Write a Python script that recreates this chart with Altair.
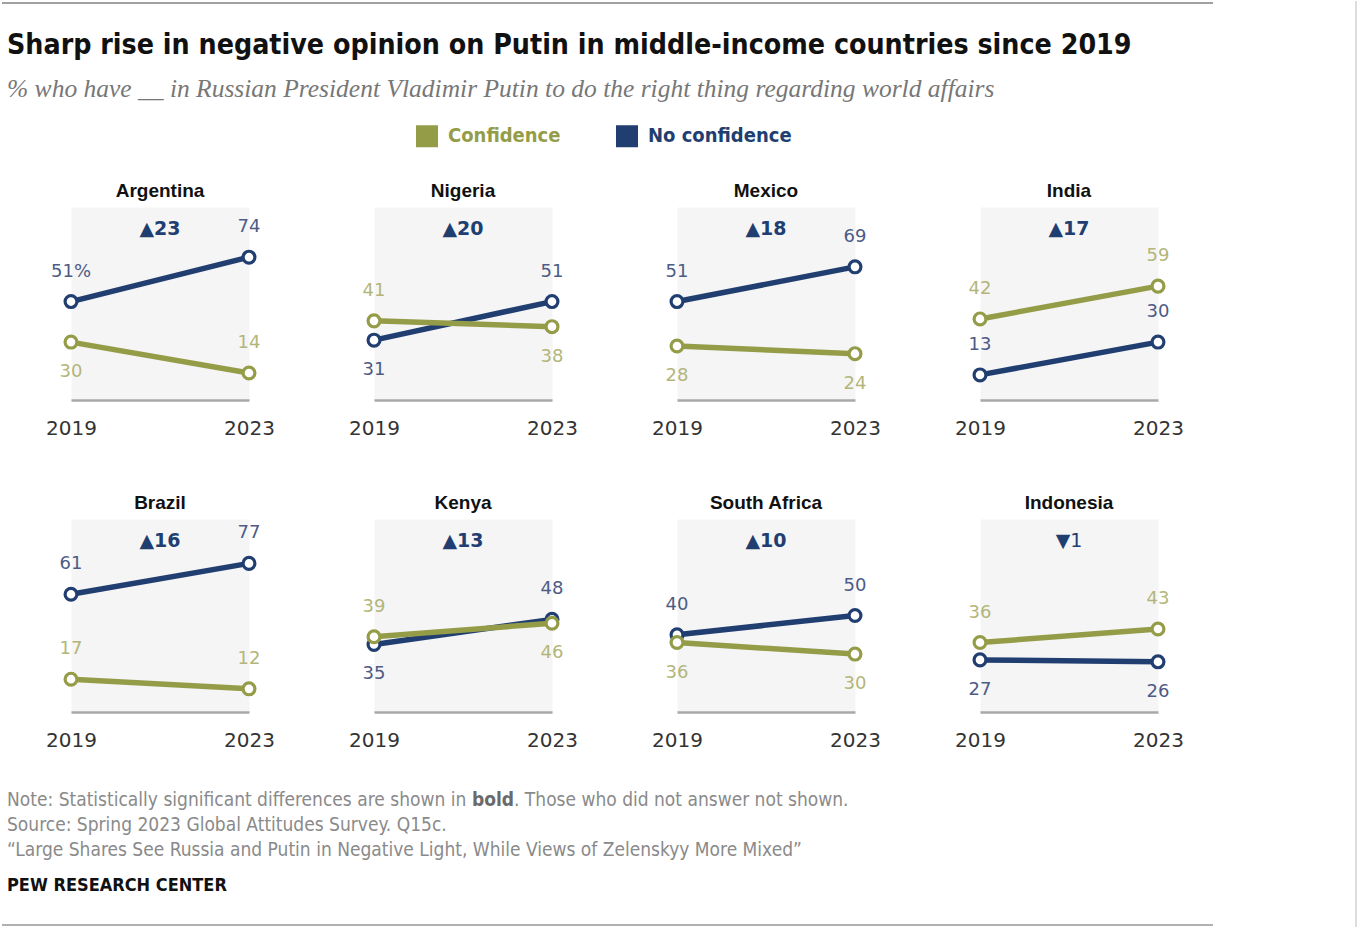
import altair as alt
import pandas as pd

# ---------------- data ----------------
countries = ["Argentina", "Nigeria", "Mexico", "India",
             "Brazil", "Kenya", "South Africa", "Indonesia"]
years = [2019, 2023]
conf_2019 = [30, 41, 28, 42, 17, 39, 36, 36]
conf_2023 = [14, 38, 24, 59, 12, 46, 30, 43]
noconf_2019 = [51, 31, 51, 13, 61, 35, 40, 27]
noconf_2023 = [74, 51, 69, 30, 77, 48, 50, 26]
change = [23, 20, 18, 17, 16, 13, 10, -1]
significant = [True, True, True, True, True, True, True, False]
series_names = ["Confidence", "No confidence"]

title_text = "Sharp rise in negative opinion on Putin in middle-income countries since 2019"
subtitle_text = "% who have __ in Russian President Vladimir Putin to do the right thing regarding world affairs"
note_a = "Note: Statistically significant differences are shown in "
note_b = "bold"
note_c = ". Those who did not answer not shown."
source_text = "Source: Spring 2023 Global Attitudes Survey. Q15c."
report_text = "\u201cLarge Shares See Russia and Putin in Negative Light, While Views of Zelenskyy More Mixed\u201d"
org_text = "PEW RESEARCH CENTER"

# label placement (layout choice of the original): lower-series labels that sit above their point
low_label_above = {"Argentina": [2023], "India": [2019, 2023], "Brazil": [2019, 2023]}

# ---------------- styles ----------------
OLIVE = "#959c48"
NAVY = "#213e71"
OLIVE_LBL = "#b3b67a"
NAVY_LBL = "#4d5b85"
NARROW = "Liberation Sans Narrow, Arial Narrow, DejaVu Sans Condensed, sans-serif"
SANS = "Liberation Sans, Arial, sans-serif"
NUM = "DejaVu Sans, Verdana, sans-serif"

rows = []
for i, c in enumerate(countries):
    pairs = [
        ("Confidence", [conf_2019[i], conf_2023[i]], [noconf_2019[i], noconf_2023[i]]),
        ("No confidence", [noconf_2019[i], noconf_2023[i]], [conf_2019[i], conf_2023[i]]),
    ]
    for s, vals, other in pairs:
        for k, yr in enumerate(years):
            v = vals[k]
            lbl = str(v)
            if i == 0 and s == "No confidence" and k == 0:
                lbl += "%"
            above = v > other[k] or yr in low_label_above.get(c, [])
            rows.append(dict(country=c, series=s, year=yr, value=v, label=lbl,
                             pos="above" if above else "below"))
df = pd.DataFrame(rows)

chg = pd.DataFrame({
    "country": countries,
    "sig": significant,
    "label": [("\u25B2" if d > 0 else "\u25BC") + str(abs(d)) for d in change],
})

W, H = 178, 193

x_enc = alt.X("year:Q", scale=alt.Scale(domain=[2019, 2023], nice=False, zero=False),
              axis=alt.Axis(values=years, format="d", title=None, grid=False, ticks=False,
                            labelFlush=False, domainColor="#a8a8a8", domainWidth=2.5,
                            labelFont=NUM, labelFontSize=20, labelColor="#333333",
                            labelPadding=18))
y_enc = alt.Y("value:Q", scale=alt.Scale(domain=[0, 100], nice=False), axis=None)

legend_color_expr = f"datum.value == 'Confidence' ? '{OLIVE}' : '{NAVY}'"
legend = alt.Legend(
    title=None, orient="none", direction="horizontal", legendX=345, legendY=-82,
    symbolType="square", symbolSize=121, symbolStrokeWidth=11, symbolOpacity=1,
    labelFont=NARROW, labelFontSize=20, labelFontWeight="bold",
    labelOffset=10, columnPadding=38,
    labelColor=alt.ExprRef(legend_color_expr),
)
color_enc = alt.Color("series:N", scale=alt.Scale(domain=series_names, range=[OLIVE, NAVY]),
                      legend=legend)


def text_layer(txt, x, y, **kw):
    kw.setdefault("align", "left")
    return alt.Chart(pd.DataFrame({"t": [txt]})).mark_text(
        baseline="middle", **kw
    ).encode(x=alt.value(x), y=alt.value(y), text="t:N")


def panel(country, first=False):
    base = alt.Chart(df).transform_filter(alt.datum.country == country)
    layers = []
    for s in ["No confidence", "Confidence"]:
        b = base.transform_filter(alt.datum.series == s)
        layers.append(b.mark_line(strokeWidth=5.5).encode(x=x_enc, y=y_enc, color=color_enc))
        layers.append(b.mark_point(shape="circle", filled=False, fill="white", fillOpacity=1,
                                   opacity=1, size=140, strokeWidth=3.2)
                      .encode(x=x_enc, y=y_enc, color=color_enc))
    lbl_color = alt.condition(alt.datum.series == "Confidence", alt.value(OLIVE_LBL), alt.value(NAVY_LBL))
    for pos, dy in [("above", -30), ("below", 30)]:
        layers.append(base.transform_filter(alt.datum.pos == pos)
                      .mark_text(dy=dy, font=NUM, fontSize=18, baseline="middle")
                      .encode(x=x_enc, y=y_enc, text="label:N", color=lbl_color))
    cb = alt.Chart(chg).transform_filter(alt.datum.country == country)
    layers.append(cb.transform_filter(alt.datum.sig == True)
                  .mark_text(font=NUM, fontSize=19, fontWeight="bold", color=NAVY, baseline="middle")
                  .encode(x=alt.value(W / 2), y=alt.value(22), text="label:N"))
    layers.append(cb.transform_filter(alt.datum.sig == False)
                  .mark_text(font=NUM, fontSize=19, color=NAVY, baseline="middle")
                  .encode(x=alt.value(W / 2), y=alt.value(22), text="label:N"))
    # panel heading
    layers.append(text_layer(country, W / 2, -16, align="center", font=SANS, fontSize=19,
                             fontWeight="bold", color="#111111"))
    if first:
        layers += [
            text_layer(title_text, -64, -161, font=NARROW, fontSize=28.3, fontWeight="bold", color="#111111"),
            text_layer(subtitle_text, -64, -118, font="Liberation Serif, Georgia, serif", fontSize=25.5,
                       fontStyle="italic", color="#777777"),
            text_layer(note_a, -64, 593, font=NARROW, fontSize=19, color="#8a8a8a"),
            text_layer(note_b, 401, 593, font=NARROW, fontSize=19, fontWeight="bold", color="#6a6a6a"),
            text_layer(note_c, 443, 593, font=NARROW, fontSize=19, color="#8a8a8a"),
            text_layer(source_text, -64, 618, font=NARROW, fontSize=19, color="#8a8a8a"),
            text_layer(report_text, -64, 643, font=NARROW, fontSize=19, color="#8a8a8a"),
            text_layer(org_text, -64, 679, font=NARROW, fontSize=18, fontWeight="bold", color="#111111"),
            alt.Chart(pd.DataFrame({"a": [0]})).mark_rule(color="#a0a0a0", strokeWidth=2)
            .encode(x=alt.value(-69), x2=alt.value(1142), y=alt.value(-204)),
            alt.Chart(pd.DataFrame({"a": [0]})).mark_rule(color="#b0b0b0", strokeWidth=2)
            .encode(x=alt.value(-69), x2=alt.value(1142), y=alt.value(718)),
            alt.Chart(pd.DataFrame({"a": [0]})).mark_rule(color="#dddddd", strokeWidth=2)
            .encode(x=alt.value(1285), y=alt.value(-206), y2=alt.value(720)),
        ]
    return alt.layer(*layers).properties(width=W, height=H)


panels = [panel(c, first=(i == 0)) for i, c in enumerate(countries)]

chart = alt.concat(*panels, columns=4, spacing={"row": 119, "column": 125}, bounds="flush").properties(
    padding={"left": 1, "top": 0, "right": 0, "bottom": 0}, background="white"
).configure_view(fill="#f5f5f5", strokeOpacity=0).resolve_scale(color="shared")

chart.save("out.html", embed_options={"renderer": "svg", "actions": False})
